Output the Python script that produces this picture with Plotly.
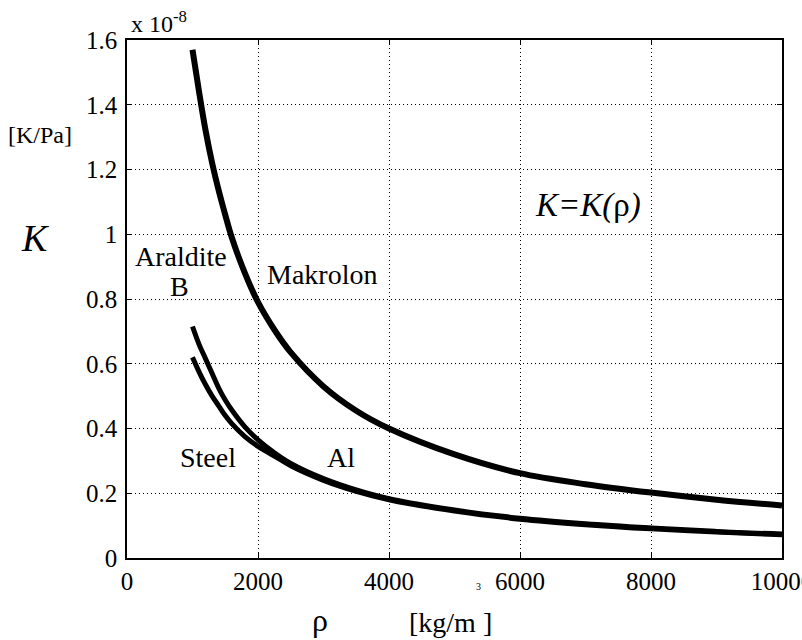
import plotly.graph_objects as go

# density rho [kg/m^3]
rho = [1000, 1100, 1200, 1300, 1400, 1500, 1600, 1800, 2000, 2250, 2500,
       3000, 3500, 4000, 5000, 6000, 7000, 8000, 9000, 10000]

# K values (x 1e-8 K/Pa)
k_makrolon = [1.57, 1.44, 1.32, 1.22, 1.135, 1.06, 0.99, 0.88, 0.79, 0.705, 0.635,
              0.53, 0.455, 0.40, 0.32, 0.262, 0.228, 0.202, 0.180, 0.162]
k_upper_low = [0.715, 0.66, 0.615, 0.57, 0.525, 0.488, 0.457, 0.405, 0.365, 0.325, 0.292,
               0.245, 0.21, 0.183, 0.148, 0.123, 0.106, 0.093, 0.082, 0.074]
k_lower_low = [0.62, 0.575, 0.535, 0.50, 0.47, 0.44, 0.415, 0.375, 0.345, 0.315, 0.285,
               0.24, 0.206, 0.18, 0.145, 0.12, 0.103, 0.09, 0.08, 0.072]

x_ticks = [0, 2000, 4000, 6000, 8000, 10000]
y_ticks = [0, 0.2, 0.4, 0.6, 0.8, 1.0, 1.2, 1.4, 1.6]
y_tick_text = ["0", "0.2", "0.4", "0.6", "0.8", "1", "1.2", "1.4", "1.6"]

W, H = 802, 640
L, R, T, B = 127, 20, 40, 82
PW, PH = W - L - R, H - T - B
FONT = "Liberation Serif, DejaVu Serif, serif"


def px(xp):
    return (xp - L) / PW


def py(yp):
    return (H - B - yp) / PH


fig = go.Figure()
for ks, w in [(k_makrolon, 6), (k_upper_low, 5), (k_lower_low, 5)]:
    fig.add_trace(go.Scatter(x=rho, y=ks, mode="lines",
                             line=dict(color="black", width=w, shape="spline"),
                             showlegend=False, hoverinfo="skip"))

axis_common = dict(
    showline=True, linecolor="black", linewidth=1.5, mirror="ticks",
    ticks="inside", ticklen=5, tickcolor="black", tickwidth=1,
    showgrid=True, gridcolor="black", gridwidth=1, griddash="1px,3px",
    zeroline=False, tickfont=dict(family=FONT, size=25, color="black"),
    ticklabeloverflow="allow", automargin=False,
)
fig.update_xaxes(range=[0, 10000], tickvals=x_ticks,
                 ticktext=[str(v) for v in x_ticks], ticklabelstandoff=0,
                 **axis_common)
fig.update_yaxes(range=[0, 1.6], tickvals=y_ticks, ticktext=y_tick_text,
                 ticklabelstandoff=3, **axis_common)


def ann(text, x, y, size, xanchor="center", yanchor="middle"):
    fig.add_annotation(text=text, x=px(x), y=py(y), xref="paper", yref="paper",
                       showarrow=False, xanchor=xanchor, yanchor=yanchor,
                       font=dict(family=FONT, size=size, color="black"))


ann("x 10<sup>-8</sup>", 129, 22, 24, xanchor="left")
ann("[K/Pa]", 40, 135, 24)
ann("<i>K</i>", 35, 238, 38)
ann("Araldite", 181, 256, 28)
ann("B", 179, 286, 28)
ann("Makrolon", 322, 274, 28)
ann("Steel", 208, 458, 28)
ann("Al", 341, 457, 28)
ann("<i>K=K(</i>ρ<i>)</i>", 588, 205, 33)
ann("ρ", 320, 620, 32)
ann("[kg/m ]", 450, 622, 28)
ann("3", 478, 586, 10)

fig.update_layout(width=W, height=H, margin=dict(l=L, r=R, t=T, b=B),
                  font=dict(family=FONT),
                  plot_bgcolor="white", paper_bgcolor="white")

fig.write_html("out.html")
